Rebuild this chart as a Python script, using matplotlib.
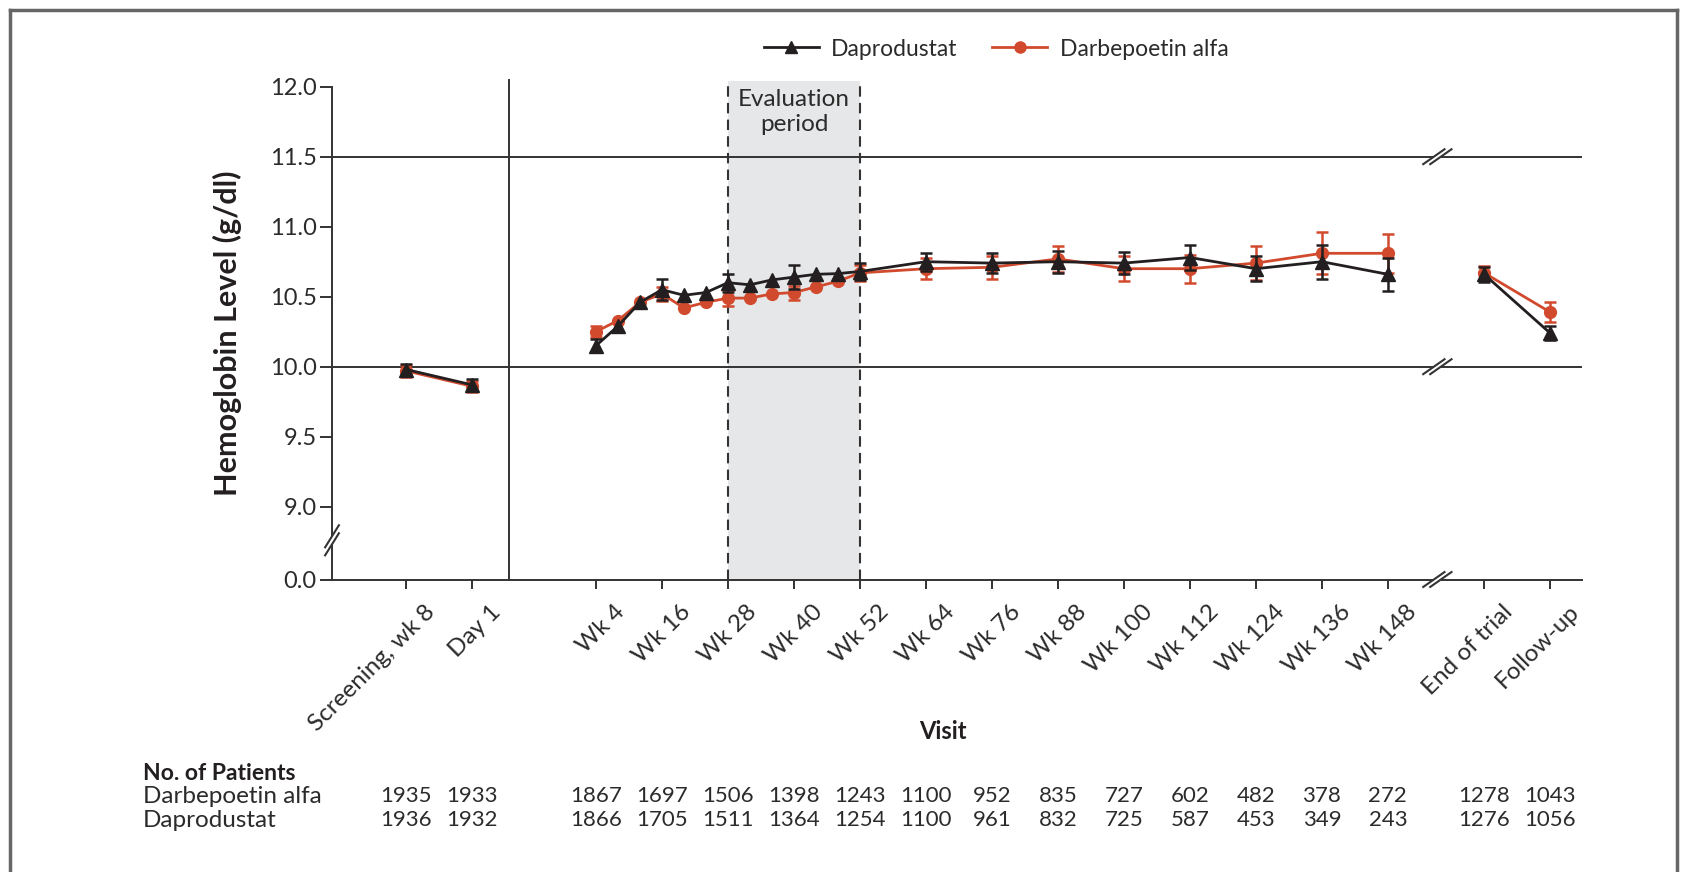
import numpy as np
import matplotlib
matplotlib.use("Agg")
import matplotlib.pyplot as plt
import matplotlib.transforms as mtransforms
from matplotlib.lines import Line2D

plt.rcParams['font.family'] = ['Lato', 'DejaVu Sans']

# ---------------- data ----------------
visit_labels = ['Screening, wk 8', 'Day 1', 'Wk 4', 'Wk 16', 'Wk 28', 'Wk 40', 'Wk 52',
                'Wk 64', 'Wk 76', 'Wk 88', 'Wk 100', 'Wk 112', 'Wk 124', 'Wk 136',
                'Wk 148', 'End of trial', 'Follow-up']

weeks = [4, 8, 12, 16, 20, 24, 28, 32, 36, 40, 44, 48, 52, 64, 76, 88, 100, 112, 124, 136, 148]
dapro_mean = [10.15, 10.29, 10.46, 10.55, 10.51, 10.53, 10.60, 10.585, 10.62, 10.64, 10.66,
              10.665, 10.68, 10.75, 10.74, 10.75, 10.74, 10.78, 10.70, 10.75, 10.66]
dapro_err = [0.045, None, None, 0.075, None, None, 0.065, None, None, 0.085, None, None,
             0.06, 0.065, 0.07, 0.08, 0.08, 0.09, 0.09, 0.12, 0.12]
darb_mean = [10.25, 10.33, 10.46, 10.52, 10.42, 10.46, 10.49, 10.49, 10.52, 10.53, 10.57,
             10.61, 10.67, 10.70, 10.71, 10.77, 10.70, 10.70, 10.74, 10.81, 10.81]
darb_err = [0.04, None, None, 0.05, None, None, 0.055, None, None, 0.05, None, None,
            0.06, 0.075, 0.08, 0.09, 0.09, 0.10, 0.12, 0.15, 0.14]

base_dapro = [9.98, 9.87]
base_dapro_err = [0.04, 0.04]
base_darb = [9.97, 9.86]
base_darb_err = [0.04, 0.04]

end_dapro = [10.66, 10.24]
end_dapro_err = [0.055, 0.05]
end_darb = [10.67, 10.39]
end_darb_err = [0.05, 0.07]

n_darb = [1935, 1933, 1867, 1697, 1506, 1398, 1243, 1100, 952, 835, 727, 602, 482, 378, 272, 1278, 1043]
n_dapro = [1936, 1932, 1866, 1705, 1511, 1364, 1254, 1100, 961, 832, 725, 587, 453, 349, 243, 1276, 1056]

# ---------------- layout ----------------
W, H = 1684, 872
base_pos = [-30.5, -18.5]
end_pos = [165.5, 177.5]
tick_weeks = weeks[0::3][:5] + weeks[13:]
tick_pos = base_pos + tick_weeks + end_pos
sep_x = -11.8
brk_x = 157
y_floor = 8.48
eval_start, eval_end = 28, 52

DARK = '#231f20'
RED = '#d24a2e'
GRID = '#333333'
TXT = '#2b2b2b'

fig = plt.figure(figsize=(W / 100, H / 100), dpi=100)
ax = fig.add_axes([332 / W, 1 - 579.5 / H, 1250 / W, (579.5 - 86.7) / H])
ax.set_xlim(-44, 183.3)
ax.set_ylim(y_floor, 12.0)

# evaluation period
ax.fill_between([eval_start, eval_end], y_floor, 12.04, color='#e6e7e8', zorder=0, clip_on=False, lw=0)
for xv in (eval_start, eval_end):
    ax.plot([xv, xv], [y_floor, 12.04], ls=(0, (5, 3)), color=GRID, lw=1.5, clip_on=False, zorder=1)
ax.text((eval_start + eval_end) / 2, 11.82, 'Evaluation\nperiod', ha='center', va='center',
        fontsize=17.5, color=TXT, linespacing=1.2)

# reference lines and separator
for yv in (10.0, 11.5):
    ax.axhline(yv, color=GRID, lw=1.4, zorder=1)
ax.plot([sep_x, sep_x], [y_floor, 12.045], color=GRID, lw=1.4, clip_on=False, zorder=1)


def draw_series(xs, ys, errs, color, marker, ms, z):
    ax.plot(xs, ys, color=color, lw=2.0, marker=marker, ms=ms, zorder=z, clip_on=False)
    ex = [x for x, e in zip(xs, errs) if e is not None]
    ey = [y for y, e in zip(ys, errs) if e is not None]
    ee = [e for e in errs if e is not None]
    ax.errorbar(ex, ey, yerr=ee, fmt='none', ecolor=color, elinewidth=1.8,
                capsize=4.5, capthick=1.8, zorder=z - 0.5)


for (xs, d, de, r, re) in [
        (base_pos, base_dapro, base_dapro_err, base_darb, base_darb_err),
        (weeks, dapro_mean, dapro_err, darb_mean, darb_err),
        (end_pos, end_dapro, end_dapro_err, end_darb, end_darb_err)]:
    draw_series(xs, r, re, RED, 'o', 8.5, 4)
    draw_series(xs, d, de, DARK, '^', 9.5, 6)

# axes styling
for s in ('top', 'right'):
    ax.spines[s].set_visible(False)
ax.spines['left'].set_bounds(y_floor, 12.0)
for s in ('left', 'bottom'):
    ax.spines[s].set_color(GRID)
    ax.spines[s].set_linewidth(1.4)

yt = [y_floor, 9.0, 9.5, 10.0, 10.5, 11.0, 11.5, 12.0]
ax.set_yticks(yt)
ax.set_yticklabels(['0.0'] + ['%.1f' % v for v in yt[1:]])
ax.tick_params(axis='y', length=9, width=1.4, color=GRID, labelsize=17, labelcolor=TXT, pad=2)

ax.set_xticks(tick_pos)
ax.set_xticklabels(visit_labels)
ax.tick_params(axis='x', length=6.5, width=1.4, color=GRID, labelsize=17.5, labelcolor=TXT, pad=9)
off = mtransforms.ScaledTranslation(18 / 100, 0, fig.dpi_scale_trans)
for lab in ax.get_xticklabels():
    lab.set_rotation(45)
    lab.set_rotation_mode('anchor')
    lab.set_ha('right')
    lab.set_va('top')
    lab.set_transform(lab.get_transform() + off)

ax.set_ylabel('Hemoglobin Level (g/dl)', fontsize=22, fontweight='bold', color=DARK)
ax.yaxis.set_label_coords((242 - 332) / 1250, 0.5)
fig.text(943 / W, 1 - 731 / H, 'Visit', fontsize=17, fontweight='bold', color=DARK, ha='center', va='center')


# break marks (drawn in pixel coordinates)
def brk(x, y, angle, half, gap, along):
    X, Y = ax.transData.transform((x, y))
    a = np.deg2rad(angle)
    dx, dy = half * np.cos(a), half * np.sin(a)
    if along == 'x':
        ox, oy = gap / 2, 0
    else:
        ox, oy = 0, gap / 2
    fig.add_artist(Line2D([X - ox, X + ox], [Y - oy, Y + oy], transform=None, color='white',
                          lw=3, zorder=20, solid_capstyle='butt'))
    for s in (-1, 1):
        fig.add_artist(Line2D([X + s * ox - dx, X + s * ox + dx], [Y + s * oy - dy, Y + s * oy + dy],
                              transform=None, color=GRID, lw=1.5, zorder=21))


for yv in (y_floor, 10.0, 11.5):
    brk(brk_x, yv, 35, 13, 7, 'x')
brk(ax.get_xlim()[0], 8.76, 58, 13, 8, 'y')

# legend
handles = [Line2D([], [], color=DARK, lw=2, marker='^', ms=9),
           Line2D([], [], color=RED, lw=2, marker='o', ms=8)]
fig.legend(handles, ['Daprodustat', 'Darbepoetin alfa'], loc='center', bbox_to_anchor=(996 / W, 1 - 49 / H),
           ncol=2, frameon=False, fontsize=16.5, handlelength=2.4, handletextpad=0.55, columnspacing=1.5,
           labelcolor=TXT)

# number at risk table
fig.text(143 / W, 1 - 773 / H, 'No. of Patients', fontsize=16.5, fontweight='bold', color=DARK, va='center')
trans = mtransforms.blended_transform_factory(ax.transData, fig.transFigure)
for label, vals, ypx in [('Darbepoetin alfa', n_darb, 796), ('Daprodustat', n_dapro, 820)]:
    fig.text(143 / W, 1 - ypx / H, label, fontsize=17.5, color=TXT, va='center')
    for xp, v in zip(tick_pos, vals):
        ax.text(xp, 1 - ypx / H, str(v), transform=trans, fontsize=16, color=TXT,
                ha='center', va='center', clip_on=False)

# outer frame
for xs_, ys_ in [([10, 10], [0, 862]), ([10, 1677], [862, 862]), ([1677, 1677], [862, 0])]:
    fig.add_artist(Line2D(np.array(xs_) / W, np.array(ys_) / H, transform=fig.transFigure,
                          color='#666666', lw=2.5))

fig.savefig('out.png', dpi=100, facecolor='white')
